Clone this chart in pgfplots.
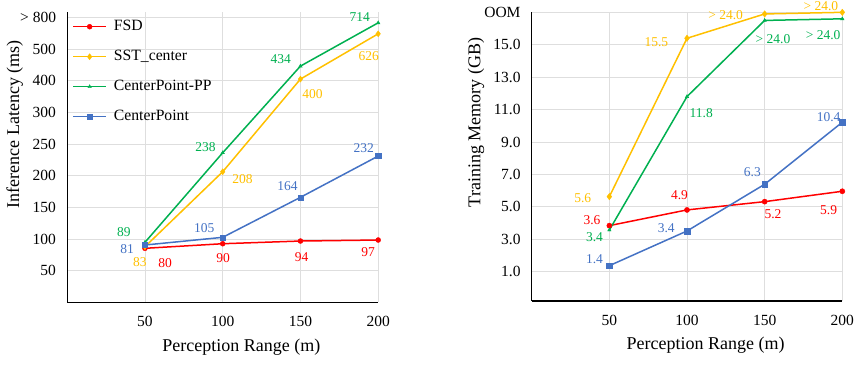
\documentclass[border=0pt]{standalone}
\usepackage{fontspec}
\setmainfont{Liberation Serif}
\usepackage{pgfplots}
\pgfplotsset{compat=1.18}

\definecolor{cred}{RGB}{255,0,0}
\definecolor{cyel}{RGB}{255,192,0}
\definecolor{cgrn}{RGB}{0,176,80}
\definecolor{cblu}{RGB}{68,114,196}

\tikzset{lab/.style={font=\fontsize{13.5}{16}\selectfont, inner sep=0pt}}
\pgfplotsset{
 base/.style={
  scale only axis, xmin=0, xmax=200, xtick={50,100,150,200},
  xticklabels={50,100,150,200},
  axis x line=bottom, axis y line=left,
  axis line style={-, line width=1.1pt, black},
  major tick length=0pt,
  grid=major, major grid style={draw=black!13, line width=0.9pt},
  tick label style={font=\fontsize{15.5}{18}\selectfont},
  /pgf/number format/assume math mode=true,
  xticklabel style={inner sep=0pt, anchor=north, yshift=-14pt},
  yticklabel style={inner sep=0pt, anchor=east, xshift=-11pt},
  clip=false,
  every axis plot/.append style={line width=1.5pt},
 },
}

\begin{document}
\begin{tikzpicture}
\useasboundingbox (0,0) rectangle (865pt,365pt);

% ---------------- left panel ----------------
\begin{axis}[base,
  at={(67.2pt,62.6pt)}, anchor=south west,
  width=311pt, height=290.4pt,
  ymin=0, ymax=9.17,
  ytick={1,2,3,4,5,6,7,8,9},
  yticklabels={50,100,150,200,250,300,400,500,{> 800}},
  xlabel={Perception Range (m)},
  ylabel={Inference Latency (ms)},
  every axis x label/.style={at={(axis description cs:0.56,-0.154)}, anchor=center, font=\fontsize{18}{21}\selectfont},
  every axis y label/.style={at={(axis description cs:-0.169,0.614)}, rotate=90, anchor=center, font=\fontsize{18}{21}\selectfont},
  legend style={draw=none, fill=none, at={(0,1)}, anchor=north west,
    xshift=5pt, yshift=-5pt, inner sep=0pt,
    font=\fontsize{15.7}{18}\selectfont,
    nodes={inner sep=2pt, text height=11pt, text depth=4pt},
    row sep=11pt,
    /tikz/every odd column/.append style={column sep=5pt}},
  legend cell align=left,
  legend image code/.code={\draw[mark repeat=2,mark phase=2,#1] plot coordinates {(0pt,0pt) (16.5pt,0pt) (33pt,0pt)};},
]
\addplot[color=cred, mark=*, mark size=2.5pt, mark options={line width=0.4pt}]
  coordinates {(50,1.708) (100,1.853) (150,1.938) (200,1.970)};
\addlegendentry{FSD}
\addplot[color=cyel, mark=diamond*, mark size=3pt, mark options={line width=0.4pt}]
  coordinates {(50,1.758) (100,4.126) (150,7.052) (200,8.482)};
\addlegendentry{SST\_center}
\addplot[color=cgrn, mark=triangle*, mark size=2pt, mark options={line width=0.4pt}]
  coordinates {(50,1.897) (100,4.725) (150,7.462) (200,8.829)};
\addlegendentry{CenterPoint-PP}
\addplot[color=cblu, mark=square*, mark size=2.6pt, mark options={line width=0.4pt}]
  coordinates {(50,1.812) (100,2.055) (150,3.318) (200,4.621)};
\addlegendentry{CenterPoint}

\node[lab,text=cred] at (axis cs:62.9,1.253) {80};
\node[lab,text=cred] at (axis cs:100.3,1.392) {90};
\node[lab,text=cred] at (axis cs:150.7,1.424) {94};
\node[lab,text=cred] at (axis cs:193.5,1.581) {97};
\node[lab,text=cyel] at (axis cs:46.8,1.285) {83};
\node[lab,text=cyel] at (axis cs:112.8,3.895) {208};
\node[lab,text=cyel] at (axis cs:157.8,6.578) {400};
\node[lab,text=cyel] at (axis cs:194.0,7.787) {626};
\node[lab,text=cgrn] at (axis cs:36.5,2.213) {89};
\node[lab,text=cgrn] at (axis cs:89.0,4.896) {238};
\node[lab,text=cgrn] at (axis cs:137.4,7.674) {434};
\node[lab,text=cgrn] at (axis cs:188.2,9.0) {714};
\node[lab,text=cblu] at (axis cs:38.6,1.676) {81};
\node[lab,text=cblu] at (axis cs:88.1,2.358) {105};
\node[lab,text=cblu] at (axis cs:141.7,3.674) {164};
\node[lab,text=cblu] at (axis cs:190.7,4.864) {232};
\end{axis}

% ---------------- right panel ----------------
\begin{axis}[base,
  at={(531.7pt,64pt)}, anchor=south west,
  width=310.6pt, height=289pt,
  ymin=-0.81, ymax=17.02,
  ytick={1,3,5,7,9,11,13,15,17},
  yticklabels={1.0,3.0,5.0,7.0,9.0,11.0,13.0,15.0,OOM},
  xlabel={Perception Range (m)},
  ylabel={Training Memory (GB)},
  every axis x label/.style={at={(axis description cs:0.56,-0.152)}, anchor=center, font=\fontsize{18}{21}\selectfont},
  every axis y label/.style={at={(axis description cs:-0.179,0.618)}, rotate=90, anchor=center, font=\fontsize{18}{21}\selectfont},
]
\addplot[color=cred, mark=*, mark size=2.6pt, mark options={line width=0.4pt}]
  coordinates {(50,3.84) (100,4.81) (150,5.32) (200,5.96)};
\addplot[color=cyel, mark=diamond*, mark size=3.2pt, mark options={line width=0.4pt}]
  coordinates {(50,5.63) (100,15.4) (150,16.9) (200,17.0)};
\addplot[color=cgrn, mark=triangle*, mark size=2pt, mark options={line width=0.4pt}]
  coordinates {(50,3.57) (100,11.8) (150,16.5) (200,16.6)};
\addplot[color=cblu, mark=square*, mark size=2.8pt, mark options={line width=0.4pt}]
  coordinates {(50,1.37) (100,3.51) (150,6.39) (200,10.22)};

\node[lab,text=cred] at (axis cs:38.8,4.15) {3.6};
\node[lab,text=cred] at (axis cs:95.2,5.73) {4.9};
\node[lab,text=cred] at (axis cs:155.4,4.54) {5.2};
\node[lab,text=cred] at (axis cs:191.2,4.81) {5.9};
\node[lab,text=cyel] at (axis cs:32.9,5.55) {5.6};
\node[lab,text=cyel] at (axis cs:80.3,15.19) {15.5};
\node[lab,text=cyel] at (axis cs:124.9,16.84) {> 24.0};
\node[lab,text=cyel] at (axis cs:186.2,17.39) {> 24.0};
\node[lab,text=cgrn] at (axis cs:40.4,3.14) {3.4};
\node[lab,text=cgrn] at (axis cs:109.2,10.81) {11.8};
\node[lab,text=cgrn] at (axis cs:155.4,15.36) {> 24.0};
\node[lab,text=cgrn] at (axis cs:187.7,15.62) {> 24.0};
\node[lab,text=cblu] at (axis cs:40.4,1.78) {1.4};
\node[lab,text=cblu] at (axis cs:86.6,3.71) {3.4};
\node[lab,text=cblu] at (axis cs:142.1,7.15) {6.3};
\node[lab,text=cblu] at (axis cs:191.2,10.52) {10.4};
\end{axis}
\end{tikzpicture}
\end{document}
